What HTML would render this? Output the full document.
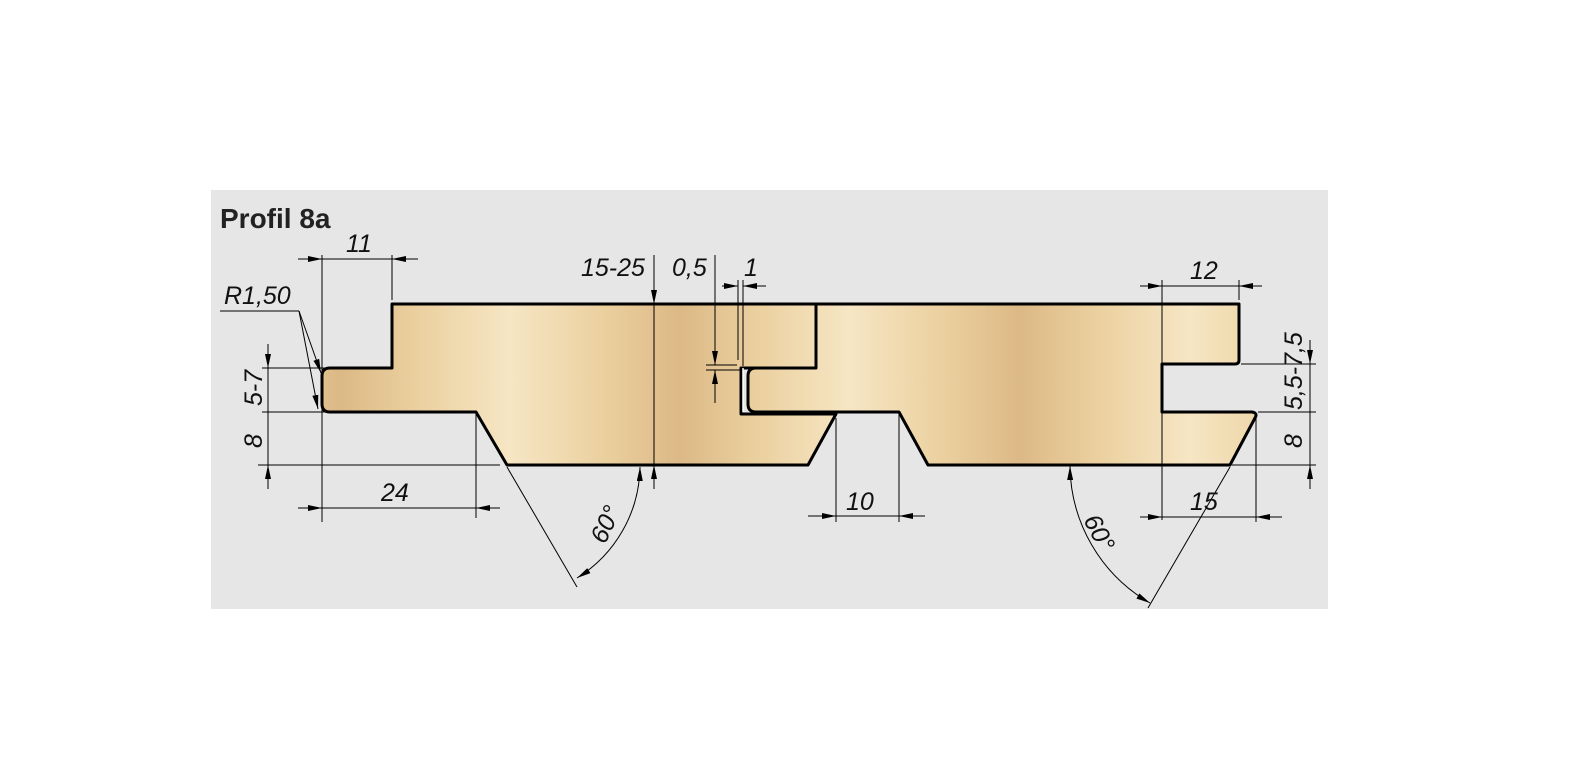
<!DOCTYPE html>
<html><head><meta charset="utf-8"><style>
html,body{margin:0;padding:0;background:#fff;}
svg{display:block;}
text{font-family:"Liberation Sans",sans-serif;font-style:italic;font-size:25px;fill:#111;}
</style></head><body>
<svg width="1576" height="782" viewBox="0 0 1576 782" xmlns="http://www.w3.org/2000/svg">
<defs>
<linearGradient id="wood" gradientUnits="userSpaceOnUse" x1="0" y1="0" x2="170" y2="0" spreadMethod="reflect">
<stop offset="0" stop-color="#dcb986"/>
<stop offset="0.45" stop-color="#ebd09f"/>
<stop offset="1" stop-color="#f6e6c4"/>
</linearGradient>
<marker id="a" viewBox="0 0 14 6" refX="14" refY="3" markerWidth="14" markerHeight="6" markerUnits="userSpaceOnUse" orient="auto"><path d="M0,0 L14,3 L0,6 Z" fill="#000"/></marker>
<marker id="b" viewBox="0 0 14 6" refX="14" refY="3" markerWidth="14" markerHeight="6" markerUnits="userSpaceOnUse" orient="auto-start-reverse"><path d="M0,0 L14,3 L0,6 Z" fill="#000"/></marker>
</defs>
<rect x="211" y="190" width="1117" height="419" fill="#e6e6e6"/>
<text x="220" y="228" style="font-style:normal;font-weight:bold;font-size:28px;fill:#222">Profil 8a</text>

<path d="M392,304 H816 V368 H741 V414 H836 L808,465 H507 L476,412 H330 Q322,412 322,404 V376 Q322,368 330,368 H392 Z" fill="url(#wood)" stroke="#000" stroke-width="3" stroke-linejoin="round"/>
<path d="M816,304 H1239 V360 Q1239,364 1235,364 H1162 V412 H1252 Q1258,413 1255,418 L1230,465 H928 L899,412 H756 Q748,412 748,404 V376 Q748,368 756,368 H816 Z" fill="url(#wood)" stroke="#000" stroke-width="3" stroke-linejoin="round"/>
<path d="M743,368 V412" stroke="#fff" stroke-width="1.5"/>

<g stroke="#000" stroke-width="1" fill="none">
<line x1="322" y1="255" x2="322" y2="522"/>
<line x1="392" y1="255" x2="392" y2="300"/>
<line x1="298" y1="259" x2="322" y2="259" marker-end="url(#a)"/>
<line x1="322" y1="259" x2="392" y2="259"/>
<line x1="418" y1="259" x2="392" y2="259" marker-end="url(#a)"/>
<polyline points="220,311 299,311"/>
<line x1="299" y1="311" x2="321" y2="373" marker-end="url(#a)"/>
<line x1="299" y1="311" x2="318" y2="409" marker-end="url(#a)"/>
<line x1="262" y1="368" x2="392" y2="368"/>
<line x1="262" y1="412" x2="476" y2="412"/>
<line x1="258" y1="465" x2="500" y2="465"/>
<line x1="268" y1="344" x2="268" y2="368" marker-end="url(#a)"/>
<line x1="268" y1="368" x2="268" y2="465"/>
<line x1="268" y1="489" x2="268" y2="465" marker-end="url(#a)"/>
<line x1="476" y1="414" x2="476" y2="518"/>
<line x1="298" y1="508" x2="322" y2="508" marker-end="url(#a)"/>
<line x1="322" y1="508" x2="476" y2="508"/>
<line x1="500" y1="508" x2="476" y2="508" marker-end="url(#a)"/>
<line x1="654" y1="255" x2="654" y2="304" marker-end="url(#a)"/>
<line x1="654" y1="304" x2="654" y2="465"/>
<line x1="654" y1="489" x2="654" y2="465" marker-end="url(#a)"/>
<line x1="715" y1="255" x2="715" y2="365" marker-end="url(#a)"/>
<line x1="715" y1="403" x2="715" y2="370" marker-end="url(#a)"/>
<line x1="706" y1="365" x2="737" y2="365"/>
<line x1="706" y1="370" x2="741" y2="370"/>
<line x1="738" y1="280" x2="738" y2="360"/>
<line x1="743" y1="280" x2="743" y2="366"/>
<line x1="722" y1="286" x2="738" y2="286" marker-end="url(#a)"/>
<line x1="766" y1="286" x2="743" y2="286" marker-end="url(#a)"/>
<line x1="507" y1="467" x2="577" y2="587"/>
<path d="M640,467 A133,133 0 0 1 577,578" marker-start="url(#b)" marker-end="url(#b)"/>
<line x1="836" y1="418" x2="836" y2="522"/>
<line x1="899" y1="414" x2="899" y2="522"/>
<line x1="808" y1="516" x2="836" y2="516" marker-end="url(#a)"/>
<line x1="836" y1="516" x2="899" y2="516"/>
<line x1="925" y1="516" x2="899" y2="516" marker-end="url(#a)"/>
<line x1="1230" y1="467" x2="1148" y2="608"/>
<path d="M1070,466 A160,160 0 0 0 1150,603" marker-start="url(#b)" marker-end="url(#b)"/>
<line x1="1162" y1="280" x2="1162" y2="520"/>
<line x1="1239" y1="280" x2="1239" y2="300"/>
<line x1="1140" y1="286" x2="1162" y2="286" marker-end="url(#a)"/>
<line x1="1162" y1="286" x2="1239" y2="286"/>
<line x1="1262" y1="286" x2="1239" y2="286" marker-end="url(#a)"/>
<line x1="1256" y1="418" x2="1256" y2="522"/>
<line x1="1140" y1="517" x2="1162" y2="517" marker-end="url(#a)"/>
<line x1="1162" y1="517" x2="1256" y2="517"/>
<line x1="1282" y1="517" x2="1256" y2="517" marker-end="url(#a)"/>
<line x1="1241" y1="364" x2="1316" y2="364"/>
<line x1="1258" y1="412" x2="1316" y2="412"/>
<line x1="1232" y1="465" x2="1316" y2="465"/>
<line x1="1310" y1="340" x2="1310" y2="364" marker-end="url(#a)"/>
<line x1="1310" y1="364" x2="1310" y2="465"/>
<line x1="1310" y1="489" x2="1310" y2="465" marker-end="url(#a)"/>
</g>

<text x="346" y="252">11</text>
<text x="224" y="304">R1,50</text>
<text x="262" y="406" transform="rotate(-90 262 406)">5-7</text>
<text x="262" y="448" transform="rotate(-90 262 448)">8</text>
<text x="381" y="501">24</text>
<text x="581" y="276">15-25</text>
<text x="672" y="276">0,5</text>
<text x="744" y="276">1</text>
<text x="605" y="545" transform="rotate(-65 605 545)">60°</text>
<text x="846" y="510">10</text>
<text x="1083" y="520" transform="rotate(62 1083 520)">60°</text>
<text x="1190" y="279">12</text>
<text x="1190" y="510">15</text>
<text x="1302" y="410" transform="rotate(-90 1302 410)">5,5-7,5</text>
<text x="1302" y="448" transform="rotate(-90 1302 448)">8</text>
</svg>
</body></html>
